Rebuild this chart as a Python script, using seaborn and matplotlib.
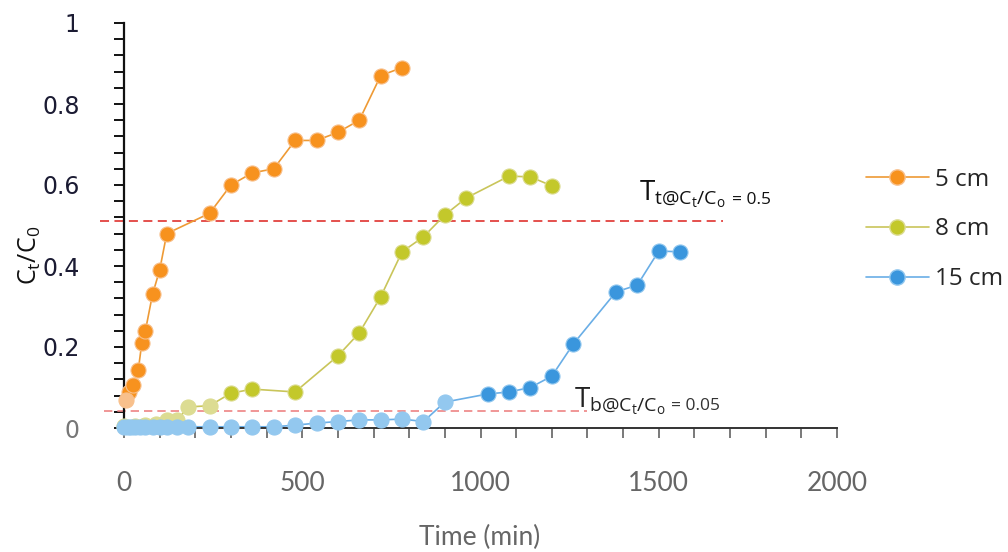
import matplotlib
matplotlib.use("Agg")
import matplotlib.pyplot as plt
import seaborn as sns
import numpy as np
from matplotlib.lines import Line2D
from matplotlib.ticker import MultipleLocator, FixedLocator

# ---------------- data ----------------
labels = ["5 cm", "8 cm", "15 cm"]

t5 = [5, 15, 25, 40, 50, 60, 80, 100, 120, 240, 300, 360, 420, 480, 540, 600, 660, 720, 780]
c5 = [0.07, 0.09, 0.105, 0.143, 0.21, 0.24, 0.33, 0.39, 0.48, 0.53, 0.60, 0.63, 0.64,
      0.71, 0.71, 0.73, 0.76, 0.87, 0.89]

t8 = [0, 30, 60, 90, 120, 150, 180, 240, 300, 360, 480, 600, 660, 720, 780, 840, 900,
      960, 1080, 1140, 1200]
c8 = [0.005, 0.005, 0.008, 0.01, 0.02, 0.02, 0.052, 0.055, 0.086, 0.096, 0.089, 0.178,
      0.235, 0.324, 0.435, 0.472, 0.526, 0.568, 0.622, 0.62, 0.598]

t15 = [0, 10, 20, 30, 45, 60, 80, 100, 120, 150, 180, 240, 300, 360, 420, 480, 540, 600,
       660, 720, 780, 840, 900, 1020, 1080, 1140, 1200, 1260, 1380, 1440, 1500, 1560]
c15 = [0.003, 0.003, 0.003, 0.003, 0.003, 0.003, 0.003, 0.003, 0.003, 0.003, 0.003, 0.003,
       0.003, 0.003, 0.003, 0.007, 0.012, 0.016, 0.02, 0.02, 0.022, 0.016, 0.064, 0.084,
       0.089, 0.10, 0.128, 0.207, 0.336, 0.353, 0.437, 0.435]

thr_top = 0.51
thr_bot = 0.043
thr_top_span = (-68, 1680)
thr_bot_span = (-55, 1300)

xticks = [0, 500, 1000, 1500, 2000]
yticks = [0, 0.2, 0.4, 0.6, 0.8, 1]
ytick_labels = ["0", "0.2", "0.4", "0.6", "0.8", "1"]

# ---------------- style ----------------
sns.set_theme(style="white")
plt.rcParams["font.family"] = ["Lato", "DejaVu Sans"]
plt.rcParams["mathtext.fontset"] = "custom"
plt.rcParams["mathtext.rm"] = "Open Sans"
plt.rcParams["mathtext.it"] = "Open Sans:italic"

fig = plt.figure(figsize=(10.08, 5.52), dpi=100)
ax = fig.add_axes([124 / 1008, 1 - 428 / 552, (837 - 124) / 1008, (428 - 23) / 552])

series = [
    # t, c, line colour, marker colour, faded marker colour, n faded (leading points)
    (t8, c8, "#C9C55A", "#C3C82B", "#DCDC92", 8),
    (t15, c15, "#6AAEE6", "#3A96DD", "#93C8EF", 23),
    (t5, c5, "#EE9A35", "#F7921E", "#F8C08C", 1),
]
msize = 118
for t, c, lc, mc, fc, nf in series:
    sns.lineplot(x=t, y=c, ax=ax, color=lc, lw=1.2, sort=False, estimator=None,
                 clip_on=False, zorder=2)
    sns.scatterplot(x=t[nf:], y=c[nf:], ax=ax, color=mc, s=msize, edgecolor=fc,
                    linewidth=0.8, clip_on=False, zorder=3)
    if nf:
        sns.scatterplot(x=t[:nf], y=c[:nf], ax=ax, color=fc, s=msize, edgecolor=fc,
                        linewidth=0.8, clip_on=False, zorder=3)

# threshold lines
ax.plot(thr_top_span, [thr_top, thr_top], ls=(0, (5, 3)), color="#E2423F", lw=1.3,
        clip_on=False, zorder=1)
ax.plot(thr_bot_span, [thr_bot, thr_bot], ls=(0, (5, 3)), color="#EE8484", lw=1.2,
        clip_on=False, zorder=1)

ax.text(1444, 0.563, r"$\mathrm{T_{t@C_{t}/C_{o}}}$", fontsize=20, color="#111111",
        va="baseline", ha="left")
ax.text(1706, 0.563, "= 0.5", fontsize=12.5, color="#111111", va="center", ha="left",
        family="Open Sans")
ax.text(1261, 0.052, r"$\mathrm{T_{b@C_{t}/C_{o}}}$", fontsize=20, color="#222222",
        va="baseline", ha="left")
ax.text(1534, 0.054, "= 0.05", fontsize=12.5, color="#333333", va="center", ha="left",
        family="Open Sans")

# axes
ax.set_xlim(0, 2000)
ax.set_ylim(0, 1)
ax.xaxis.set_major_locator(FixedLocator(xticks))
ax.xaxis.set_minor_locator(MultipleLocator(100))
ax.yaxis.set_major_locator(FixedLocator(yticks))
ax.yaxis.set_minor_locator(MultipleLocator(0.04))
ax.set_yticklabels(ytick_labels, family="DejaVu Sans")
ax.set_xticklabels([str(v) for v in xticks])

for s in ["top", "right"]:
    ax.spines[s].set_visible(False)
ax.spines["left"].set_color("#111111")
ax.spines["left"].set_linewidth(1.6)
ax.spines["bottom"].set_color("#333333")
ax.spines["bottom"].set_linewidth(1.4)

ax.tick_params(axis="y", which="both", direction="out", length=7, width=1.4,
               color="#111111", left=True, labelsize=17, labelcolor="#1b1b33", pad=25)
ax.tick_params(axis="x", which="both", direction="out", length=7, width=1.1,
               color="#555555", bottom=True, labelsize=19, labelcolor="#666666", pad=24)
ax.get_yticklabels()[0].set_color("#777777")

ax.set_xlabel("")
ax.set_ylabel("")
fig.text(480 / 1008, 1 - 537 / 552, "Time (min)", fontsize=19, color="#666666",
         ha="center", va="center")
fig.text(30 / 1008, 1 - 255 / 552, r"$\mathrm{C_{t}/C_{0}}$", fontsize=18,
         color="#111111", rotation=90, ha="center", va="center")

handles = [
    Line2D([], [], color="#EE9A35", lw=1.2, marker="o", markersize=11,
           markerfacecolor="#F7921E", markeredgecolor="#F8C08C"),
    Line2D([], [], color="#C9C55A", lw=1.2, marker="o", markersize=11,
           markerfacecolor="#C3C82B", markeredgecolor="#DCDC92"),
    Line2D([], [], color="#6AAEE6", lw=1.2, marker="o", markersize=11,
           markerfacecolor="#3A96DD", markeredgecolor="#93C8EF"),
]
fig.legend(handles, labels, loc="upper left", bbox_to_anchor=(856 / 1008, 1 - 158 / 552),
           frameon=False, prop={"family": "Open Sans", "size": 17.5}, handlelength=2.6,
           handletextpad=0.25, labelspacing=1.06, borderaxespad=0)

fig.savefig("out.png", dpi=100, facecolor="white")
